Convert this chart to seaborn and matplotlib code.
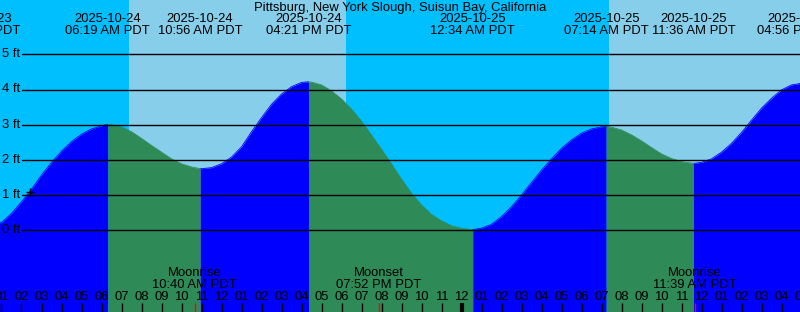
import numpy as np
import pandas as pd
import matplotlib
matplotlib.use("Agg")
import matplotlib.pyplot as plt
import matplotlib.transforms as mtransforms
import seaborn as sns

# ---------------- data ----------------
TITLE = "Pittsburg, New York Slough, Suisun Bay, California"

# sample times: hours since 2025-10-24 00:00 PDT, every half hour from 01:00
sample_hours = [k / 2 for k in range(2, 82)]
sample_heights = [
    0.22, 0.48, 0.81, 1.17, 1.57, 1.93, 2.25, 2.52, 2.73, 2.88,   # 01:00-05:30
    2.97, 3.00, 2.94, 2.80, 2.61, 2.41, 2.22, 2.03, 1.89, 1.80,   # 06:00-10:30
    1.75, 1.78, 1.89, 2.08, 2.37, 2.80, 3.20, 3.58, 3.87, 4.08,   # 11:00-15:30
    4.20, 4.21, 4.13, 3.96, 3.73, 3.44, 3.10, 2.70, 2.30, 1.88,   # 16:00-20:30
    1.45, 1.05, 0.72, 0.45, 0.27, 0.13, 0.06, 0.02, 0.06, 0.17,   # 21:00-01:30
    0.39, 0.67, 1.00, 1.36, 1.71, 2.03, 2.33, 2.57, 2.76, 2.88,   # 02:00-06:30
    2.94, 2.93, 2.85, 2.71, 2.54, 2.35, 2.17, 2.04, 1.95, 1.91,   # 07:00-11:30
    1.93, 2.03, 2.22, 2.47, 2.78, 3.13, 3.47, 3.75, 3.99, 4.13,   # 12:00-16:30
]

extreme_hours = [-0.15, 6 + 19 / 60, 10 + 56 / 60, 16 + 21 / 60,
                 24 + 34 / 60, 31 + 14 / 60, 35 + 36 / 60, 40 + 56 / 60]
extreme_heights = [0.10, 3.01, 1.75, 4.22, 0.02, 2.95, 1.90, 4.17]
extreme_dates = ["2025-10-23", "2025-10-24", "2025-10-24", "2025-10-24",
                 "2025-10-25", "2025-10-25", "2025-10-25", "2025-10-25"]
extreme_times = ["11:51 PM PDT", "06:19 AM PDT", "10:56 AM PDT", "04:21 PM PDT",
                 "12:34 AM PDT", "07:14 AM PDT", "11:36 AM PDT", "04:56 PM PDT"]

moon_hours = [10 + 40 / 60, 19 + 52 / 60, 35 + 39 / 60]
moon_events = ["Moonrise", "Moonset", "Moonrise"]
moon_times = ["10:40 AM PDT", "07:52 PM PDT", "11:39 AM PDT"]

day_starts = [7 + 22 / 60, 31 + 22 / 60]
day_ends = [18 + 13 / 60, 42 + 12 / 60]

ft_levels = [0, 1, 2, 3, 4, 5]
tick_hours = list(range(1, 42))
midnight_hours = [24]
now_hour, now_height = 2 + 25 / 60, 1.10

# ---------------- colours ----------------
NIGHT = "#00bfff"
DAY = "#87ceeb"
FLOOD = "#0000ff"
EBB = "#2e8b57"

sns.set_theme(style="white")
plt.rcParams["font.family"] = ["Liberation Sans", "DejaVu Sans"]
FS = 9.4

W, H = 800, 312
fig = plt.figure(figsize=(W / 100, H / 100), dpi=100)
ax = fig.add_axes([0, 0, 1, 1])

x0 = 1 - 1.5 / 20
x1 = x0 + 40
y_per_px = 1 / 35.2
y_top = 230.3 * y_per_px
y_bot = -(312 - 230.3) * y_per_px


def fy(py):
    return 1 - py / H


trans_xfig = mtransforms.blended_transform_factory(ax.transData, fig.transFigure)
trans_figy = mtransforms.blended_transform_factory(fig.transFigure, ax.transData)
trans_xax = mtransforms.blended_transform_factory(ax.transData, ax.transAxes)

# background night/day
ax.axvspan(x0 - 5, x1 + 5, color=NIGHT, lw=0, zorder=0)
for s, e in zip(day_starts, day_ends):
    ax.axvspan(s, e, color=DAY, lw=0, zorder=0.5)

# tide data frame
df = pd.DataFrame({"hour": sample_hours + extreme_hours,
                   "height": sample_heights + extreme_heights})
df = df.sort_values("hour").reset_index(drop=True)

rows = []
for i in range(len(extreme_hours) - 1):
    a, b = extreme_hours[i], extreme_hours[i + 1]
    seg = df[(df.hour >= a - 1e-9) & (df.hour <= b + 1e-9)].copy()
    rising = extreme_heights[i + 1] > extreme_heights[i]
    seg["phase"] = "flood" if rising else "ebb"
    seg["segment"] = i
    rows.append(seg)
    ax.fill_between(seg.hour, seg.height, y_bot, color=FLOOD if rising else EBB,
                    lw=0, zorder=1)
seg_df = pd.concat(rows, ignore_index=True)
sns.lineplot(data=seg_df, x="hour", y="height", hue="phase", units="segment",
             estimator=None, palette={"flood": FLOOD, "ebb": EBB},
             legend=False, lw=0.6, ax=ax, zorder=1.5)
ax.set_xlim(x0, x1)
ax.set_ylim(y_bot, y_top)
ax.axis("off")

# horizontal levels
for lv in ft_levels:
    ax.axhline(lv, xmin=22 / W, xmax=1, color="black", lw=1, zorder=2)
    ax.text(2.5 / W, lv, f"{lv} ft", transform=trans_figy, ha="left",
            va="center", fontsize=FS, color="black", zorder=3)

# now marker
ax.plot([now_hour], [now_height], marker="+", ms=6, mew=1, color="black",
        zorder=3)

# title and extreme labels
fig.text(0.5, fy(7.5), TITLE, ha="center", va="center", fontsize=FS,
         color="black")
for hx, d, t in zip(extreme_hours, extreme_dates, extreme_times):
    ax.text(hx, fy(19), d, transform=trans_xfig, ha="center", va="center",
            fontsize=FS, color="black", clip_on=False)
    ax.text(hx, fy(31.5), t, transform=trans_xfig, ha="center", va="center",
            fontsize=FS, color="black", clip_on=False)

# moon labels
for hx, ev, t in zip(moon_hours, moon_events, moon_times):
    ax.text(hx, fy(273.5), ev, transform=trans_xfig, ha="center", va="center",
            fontsize=FS, color="black")
    ax.text(hx, fy(285.5), t, transform=trans_xfig, ha="center", va="center",
            fontsize=FS, color="black")

# hour labels and ticks
for hx in tick_hours:
    lab = f"{((hx - 1) % 12) + 1:02d}"
    ax.text(hx, fy(296.5), lab, transform=trans_xfig, ha="center",
            va="center", fontsize=FS, color="black")
ax.vlines(tick_hours, 0, 9 / H, transform=trans_xax, color="black", lw=1,
          zorder=3)
ax.vlines(midnight_hours, 0, 9 / H, transform=trans_xax, color="black", lw=3,
          zorder=3)
ax.vlines(moon_hours, 0, 9 / H, transform=trans_xax, color="red", lw=1,
          zorder=4)

fig.savefig("out.png", dpi=100)
